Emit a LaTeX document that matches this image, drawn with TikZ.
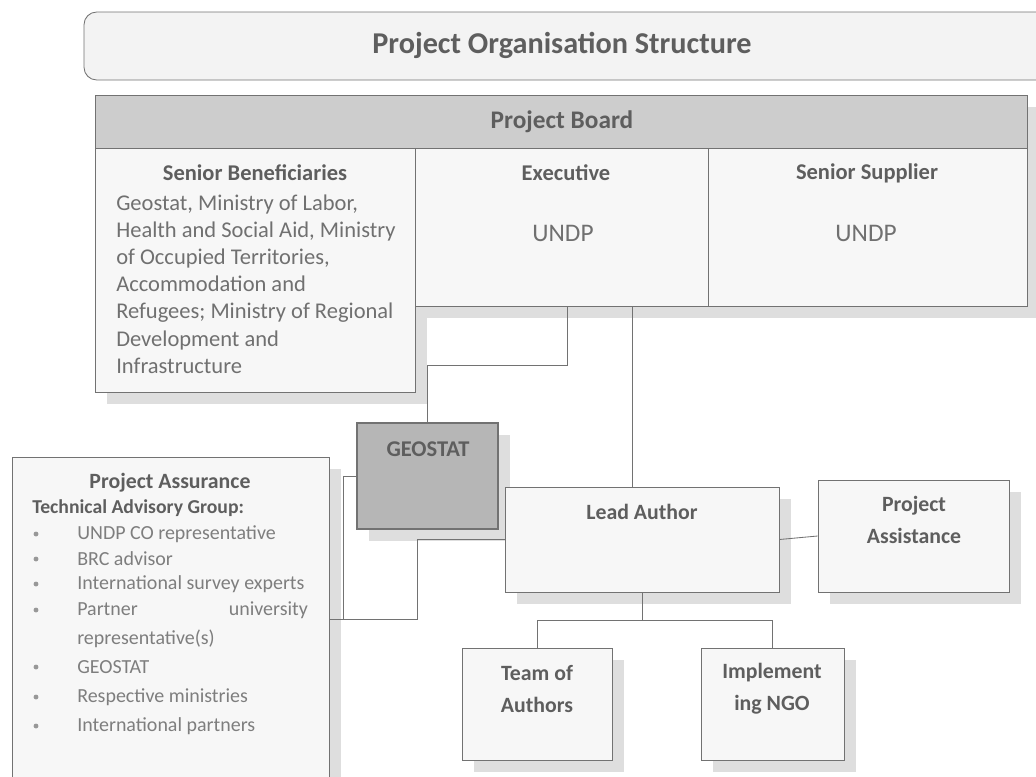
\documentclass[tikz,border=0pt]{standalone}
\usepackage{fontspec}
\setmainfont{Carlito}
\usetikzlibrary{fit,shadows}

\definecolor{edgegray}{HTML}{727272}
\definecolor{headgray}{HTML}{5E5E5E}
\definecolor{bodygray}{HTML}{707070}
\definecolor{listgray}{HTML}{7E7E7E}
\definecolor{titlefill}{HTML}{F3F3F3}
\definecolor{boardfill}{HTML}{CDCDCD}
\definecolor{boxfill}{HTML}{F7F7F7}
\definecolor{geofill}{HTML}{B6B6B6}
\definecolor{shadefill}{HTML}{DEDEDE}

\begin{document}
\begin{tikzpicture}[x=0.025cm, y=-0.025cm,
    box/.style={draw=edgegray, fill=boxfill, line width=0.6pt, inner sep=0pt},
    shaded/.style={drop shadow={shadow xshift=8.5pt, shadow yshift=-8.5pt, fill=shadefill, opacity=1}},
    head/.style={inner sep=0pt, text=headgray, font=\bfseries\fontsize{15.5}{22.5}\selectfont, align=center},
    plain/.style={inner sep=0pt, text=bodygray, font=\fontsize{16}{19.3}\selectfont},
    item/.style={inner sep=0pt, text=listgray, font=\fontsize{14.2}{17}\selectfont, anchor=west},
    dot/.style={circle, fill=listgray!80, inner sep=0pt, minimum size=3.5pt},
    link/.style={draw=edgegray, line width=0.6pt}]

    \useasboundingbox (0,0) rectangle (1036,776);
    \clip (0,0) rectangle (1036,776);

    % heading band
    \node (title) [box, fill=titlefill, rounded corners=9pt, fit={(84,12) (1070,80)}] {};
    \node (titletext) [head, font=\bfseries\fontsize{21.5}{25}\selectfont] at (562,45) {Project Organisation Structure};

    % board with its three columns
    \node (board) [box, shaded, fill=boardfill, fit={(95,95) (1027,148)}] {};
    \node (boardtext) [head, font=\bfseries\fontsize{18}{22}\selectfont] at (562,122) {Project Board};
    \node (benef) [box, shaded, fit={(95,148) (415,392)}] {};
    \node (exec) [box, shaded, fit={(415,148) (708,306)}] {};
    \node (supply) [box, shaded, fit={(708,148) (1027,306)}] {};

    \node (beneftext) [head, font=\bfseries\fontsize{16}{20}\selectfont] at (255,173) {Senior Beneficiaries};
    \node (benefbody) [plain, anchor=west, align=left] at (116,284)
        {Geostat, Ministry of Labor,\\Health and Social Aid, Ministry\\of Occupied Territories,\\Accommodation and\\Refugees; Ministry of Regional\\Development and\\Infrastructure};
    \node (exectext) [head, font=\bfseries\fontsize{16}{20}\selectfont] at (566,173) {Executive};
    \node (execbody) [plain, font=\fontsize{18}{22}\selectfont] at (563,233) {UNDP};
    \node (supplytext) [head, font=\bfseries\fontsize{16}{20}\selectfont] at (867,173) {Senior Supplier};
    \node (supplybody) [plain, font=\fontsize{18}{22}\selectfont] at (866,233) {UNDP};

    % geostat and assurance
    \node (geostat) [box, shaded, fill=geofill, line width=0.9pt, fit={(357,423) (498,529)}] {};
    \node (geotext) [head, font=\bfseries\fontsize{16}{20}\selectfont] at (428,449) {GEOSTAT};

    \node (assure) [box, shaded, fit={(12,457) (329,782)}] {};
    \node (assuretext) [head] at (170,483) {Project Assurance};
    \node (tag) [head, anchor=west, font=\bfseries\fontsize{14}{17}\selectfont] at (32,508) {Technical Advisory Group:};
    \node (b1) [dot] at (36,534) {};
    \node (i1) [item] at (77,534) {UNDP CO representative};
    \node (b2) [dot] at (36,559) {};
    \node (i2) [item] at (77,559) {BRC advisor};
    \node (b3) [dot] at (36,584) {};
    \node (i3) [item] at (77,584) {International survey experts};
    \node (b4) [dot] at (36,610) {};
    \node (i4) [item, text width=164pt] at (77,610) {Partner\hfill university};
    \node (i4b) [item] at (77,639) {representative(s)};
    \node (b5) [dot] at (36,667) {};
    \node (i5) [item] at (77,667) {GEOSTAT};
    \node (b6) [dot] at (36,697) {};
    \node (i6) [item] at (77,697) {Respective ministries};
    \node (b7) [dot] at (36,726) {};
    \node (i7) [item] at (77,726) {International partners};

    % author team
    \node (lead) [box, shaded, fit={(505,487) (779,592)}] {};
    \node (leadtext) [head] at (642,512) {Lead Author};
    \node (assist) [box, shaded, fit={(818,480) (1009,592)}] {};
    \node (assisttext) [head] at (914,520) {Project\\Assistance};
    \node (team) [box, shaded, fit={(462,648) (612,760)}] {};
    \node (teamtext) [head] at (537,689) {Team of\\Authors};
    \node (ngo) [box, shaded, fit={(701,648) (844,760)}] {};
    \node (ngotext) [head] at (772,689) {Implement\\ing NGO};

    % connectors
    \draw[link] ([xshift=4.5pt]exec.south) -- ++(0,59) -| (geostat.north);
    \draw[link] ([xshift=-7pt]lead.north) -- ([xshift=-7pt]lead.north |- exec.south);
    \draw[link] (lead.east) -- (assist.west);
    \draw[link] (lead.south) -- ++(0,28) -| (team.north);
    \draw[link] (lead.south) -- ++(0,28) -| (ngo.north);
    \draw[link] (assure.east) -- ++(14,0) |- (geostat.west);
    \draw[link] (assure.east) -- ++(88,0) |- (lead.west);
\end{tikzpicture}
\end{document}
